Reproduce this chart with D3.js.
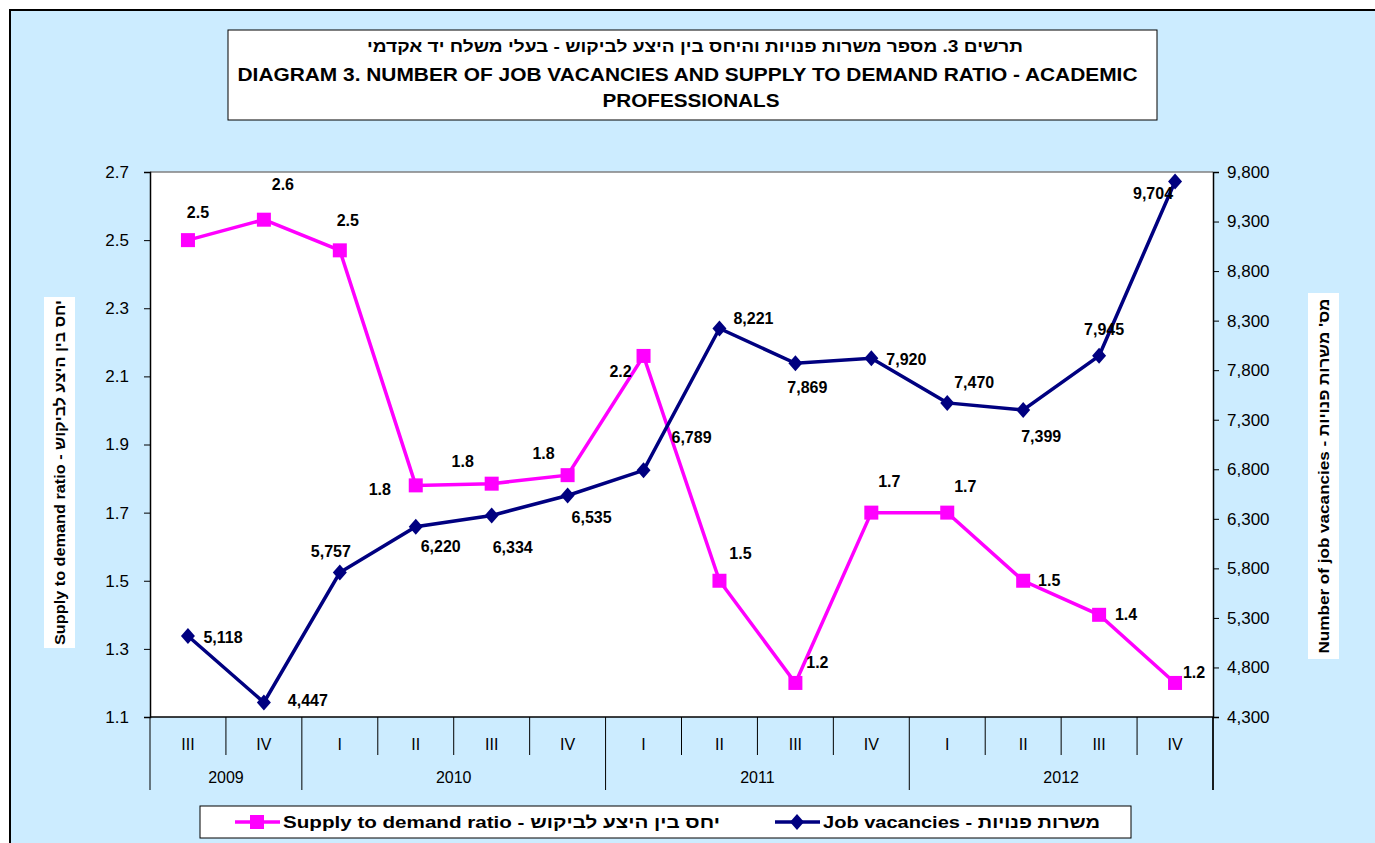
<!DOCTYPE html>
<html>
<head>
<meta charset="utf-8">
<script src="https://cdn.jsdelivr.net/npm/d3@7"></script>
<style>
  html, body { margin: 0; padding: 0; background: #ffffff; }
  svg { display: block; }
  text { font-family: "Liberation Sans", Arial, sans-serif; }
</style>
</head>
<body>
<svg id="chart" width="1375" height="843"></svg>
<script>
// ---------------- DATA ----------------
const quarters = ["III", "IV", "I", "II", "III", "IV", "I", "II", "III", "IV", "I", "II", "III", "IV"];
const years = ["2009", "2010", "2011", "2012"];
const quartersPerYear = [2, 4, 4, 4];
const ratioValues = [2.5, 2.56, 2.47, 1.78, 1.785, 1.81, 2.16, 1.5, 1.2, 1.7, 1.7, 1.5, 1.4, 1.2];
const ratioLabels = ["2.5", "2.6", "2.5", "1.8", "1.8", "1.8", "2.2", "1.5", "1.2", "1.7", "1.7", "1.5", "1.4", "1.2"];
const vacancyValues = [5118, 4447, 5757, 6220, 6334, 6535, 6789, 8221, 7869, 7920, 7470, 7399, 7945, 9704];
const leftTicks = [1.1, 1.3, 1.5, 1.7, 1.9, 2.1, 2.3, 2.5, 2.7];
const rightTicks = [4300, 4800, 5300, 5800, 6300, 6800, 7300, 7800, 8300, 8800, 9300, 9800];

const titleHe = "תרשים 3. מספר משרות פנויות והיחס בין היצע לביקוש - בעלי משלח יד אקדמי";
const titleEn1 = "DIAGRAM 3. NUMBER OF JOB VACANCIES AND SUPPLY TO DEMAND RATIO - ACADEMIC";
const titleEn2 = "PROFESSIONALS";
const leftAxisTitle = "Supply to demand ratio - יחס בין היצע לביקוש";
const rightAxisTitle = "Number of job vacancies - מס' משרות פנויות";
const legendRatio = "Supply to demand ratio - יחס בין היצע לביקוש";
const legendVac = "Job vacancies - משרות פנויות";

// ---------------- LAYOUT (label offsets, px) ----------------
const ratioLabelOffsets = [[10,-28],[19,-35],[8,-30],[-36,4],[-29,-22],[-24,-22],[-23,15],[21,-27],[22,-21],[18,-31],[18,-26],[26,0],[27,0],[19,-11]];
const vacLabelOffsets = [[35,1],[44,-2],[-9,-21],[25,20],[21,32],[24,22],[48,-33],[34,-10],[12,24],[35,1],[27,-20],[18,26],[5,-26],[-22,12]];

const PINK = "#FF00FF", NAVY = "#000080", BG = "#CCECFF";
const svg = d3.select("#chart");

// background frame
svg.append("rect").attr("x", 10).attr("y", 10).attr("width", 1380).attr("height", 850)
  .attr("fill", BG).attr("stroke", "#000").attr("stroke-width", 2);

const plot = { left: 150, right: 1213, top: 172, bottom: 717 };
const x = d3.scaleBand().domain(d3.range(quarters.length)).range([plot.left, plot.right]).padding(0);
const cx = i => x(i) + x.bandwidth() / 2;
const yL = d3.scaleLinear().domain([1.1, 2.7]).range([plot.bottom, plot.top]);
const yR = d3.scaleLinear().domain([4300, 9800]).range([plot.bottom, plot.top]);

function stretched(sel, len) {
  return sel.attr("textLength", len).attr("lengthAdjust", "spacingAndGlyphs");
}

// title box
svg.append("rect").attr("x", 228).attr("y", 30).attr("width", 929).attr("height", 90)
  .attr("fill", "#fff").attr("stroke", "#000").attr("stroke-width", 1);
stretched(svg.append("text").attr("x", 695).attr("y", 52).attr("text-anchor", "middle")
  .attr("direction", "rtl").style("unicode-bidi", "embed")
  .attr("font-size", 16).attr("font-weight", "bold").text(titleHe), 656);
stretched(svg.append("text").attr("x", 687.5).attr("y", 81).attr("text-anchor", "middle")
  .attr("font-size", 18).attr("font-weight", "bold").text(titleEn1), 900);
stretched(svg.append("text").attr("x", 691).attr("y", 107).attr("text-anchor", "middle")
  .attr("font-size", 18).attr("font-weight", "bold").text(titleEn2), 177);

// plot area
svg.append("rect").attr("x", plot.left).attr("y", plot.top)
  .attr("width", plot.right - plot.left).attr("height", plot.bottom - plot.top)
  .attr("fill", "#fff");
svg.append("line").attr("x1", plot.left).attr("x2", plot.right).attr("y1", plot.top).attr("y2", plot.top)
  .attr("stroke", "#808080").attr("stroke-width", 1.5);

// left axis
const gL = svg.append("g").attr("transform", `translate(${plot.left},0)`)
  .call(d3.axisLeft(yL).tickValues(leftTicks).tickSize(6).tickPadding(15).tickFormat(d3.format(".1f")));
gL.select(".domain").attr("stroke", "#000").attr("stroke-width", 1.5);
gL.selectAll(".tick line").attr("stroke", "#000");
gL.selectAll(".tick text").attr("font-size", 17).attr("font-family", "Liberation Sans, Arial").attr("fill", "#000");

// right axis
const gR = svg.append("g").attr("transform", `translate(${plot.right},0)`)
  .call(d3.axisRight(yR).tickValues(rightTicks).tickSize(6).tickPadding(8).tickFormat(d3.format(",")));
gR.select(".domain").attr("stroke", "#000").attr("stroke-width", 1.5);
gR.selectAll(".tick line").attr("stroke", "#000");
gR.selectAll(".tick text").attr("font-size", 17).attr("font-family", "Liberation Sans, Arial").attr("fill", "#000");
svg.append("line").attr("x1", plot.right).attr("x2", plot.right).attr("y1", plot.bottom).attr("y2", 790)
  .attr("stroke", "#000").attr("stroke-width", 1.5);

// category axis
const gX = svg.append("g");
gX.append("line").attr("x1", plot.left).attr("x2", plot.right).attr("y1", plot.bottom).attr("y2", plot.bottom)
  .attr("stroke", "#000").attr("stroke-width", 1.5);
let yearStarts = [0];
quartersPerYear.forEach((n, i) => yearStarts.push(yearStarts[i] + n));
const yearBoundaryIdx = new Set(yearStarts);
d3.range(quarters.length + 1).forEach(i => {
  const xx = i < quarters.length ? x(i) : plot.right;
  gX.append("line").attr("x1", xx).attr("x2", xx).attr("y1", plot.bottom)
    .attr("y2", yearBoundaryIdx.has(i) ? 790 : 755).attr("stroke", "#000").attr("stroke-width", 1);
});
gX.selectAll(".q").data(quarters).join("text").attr("class", "q")
  .attr("x", (d, i) => cx(i)).attr("y", 750).attr("text-anchor", "middle")
  .attr("font-size", 16).text(d => d);
gX.selectAll(".yr").data(years).join("text").attr("class", "yr")
  .attr("x", (d, i) => (x(yearStarts[i]) + (yearStarts[i + 1] < quarters.length ? x(yearStarts[i + 1]) : plot.right)) / 2)
  .attr("y", 783).attr("text-anchor", "middle").attr("font-size", 16).text(d => d);

// axis titles
function axisTitle(cxp, cyp, txt, boxW, boxH, len) {
  const g = svg.append("g").attr("transform", `translate(${cxp},${cyp}) rotate(-90)`);
  g.append("rect").attr("x", -boxH / 2).attr("y", -boxW / 2).attr("width", boxH).attr("height", boxW).attr("fill", "#fff");
  stretched(g.append("text").attr("x", 0).attr("y", 0).attr("dy", "0.35em").attr("text-anchor", "middle")
    .attr("font-size", 15.5).attr("font-weight", "bold").text(txt), len);
}
axisTitle(59.5, 472.5, leftAxisTitle, 31, 351, 345);
axisTitle(1323.5, 476, rightAxisTitle, 31, 366, 355);

// lines
const lineR = d3.line().x((d, i) => cx(i)).y(d => yL(d));
const lineV = d3.line().x((d, i) => cx(i)).y(d => yR(d));
svg.append("path").datum(ratioValues).attr("d", lineR).attr("fill", "none").attr("stroke", PINK).attr("stroke-width", 3.5);
svg.append("path").datum(vacancyValues).attr("d", lineV).attr("fill", "none").attr("stroke", NAVY).attr("stroke-width", 3.5);

const diamond = (w, h) => `M0,${-h}L${w},0L0,${h}L${-w},0Z`;
svg.selectAll(".mr").data(ratioValues).join("rect").attr("class", "mr")
  .attr("x", (d, i) => cx(i) - 7).attr("y", d => yL(d) - 7).attr("width", 14).attr("height", 14).attr("fill", PINK);
svg.selectAll(".mv").data(vacancyValues).join("path").attr("class", "mv")
  .attr("transform", (d, i) => `translate(${cx(i)},${yR(d)})`).attr("d", diamond(7, 8)).attr("fill", NAVY);

// data labels
svg.selectAll(".lr").data(ratioLabels).join("text").attr("class", "lr")
  .attr("x", (d, i) => cx(i) + ratioLabelOffsets[i][0]).attr("y", (d, i) => yL(ratioValues[i]) + ratioLabelOffsets[i][1])
  .attr("dy", "0.35em").attr("text-anchor", "middle").attr("font-size", 16).attr("font-weight", "bold").text(d => d);
svg.selectAll(".lv").data(vacancyValues).join("text").attr("class", "lv")
  .attr("x", (d, i) => cx(i) + vacLabelOffsets[i][0]).attr("y", (d, i) => yR(d) + vacLabelOffsets[i][1])
  .attr("dy", "0.35em").attr("text-anchor", "middle").attr("font-size", 16).attr("font-weight", "bold").text(d => d3.format(",")(d));

// legend
const lg = svg.append("g");
lg.append("rect").attr("x", 200).attr("y", 806).attr("width", 931).attr("height", 32)
  .attr("fill", "#fff").attr("stroke", "#000").attr("stroke-width", 1);
lg.append("line").attr("x1", 235).attr("x2", 280).attr("y1", 822).attr("y2", 822).attr("stroke", PINK).attr("stroke-width", 3.5);
lg.append("rect").attr("x", 250).attr("y", 815).attr("width", 14).attr("height", 14).attr("fill", PINK);
stretched(lg.append("text").attr("x", 283).attr("y", 822).attr("dy", "0.35em").attr("font-size", 17).attr("font-weight", "bold").text(legendRatio), 437);
lg.append("line").attr("x1", 775).attr("x2", 820).attr("y1", 822).attr("y2", 822).attr("stroke", NAVY).attr("stroke-width", 3.5);
lg.append("path").attr("transform", "translate(797,822)").attr("d", diamond(7, 8)).attr("fill", NAVY);
stretched(lg.append("text").attr("x", 823).attr("y", 822).attr("dy", "0.35em").attr("font-size", 17).attr("font-weight", "bold").text(legendVac), 277);
</script>
</body>
</html>
